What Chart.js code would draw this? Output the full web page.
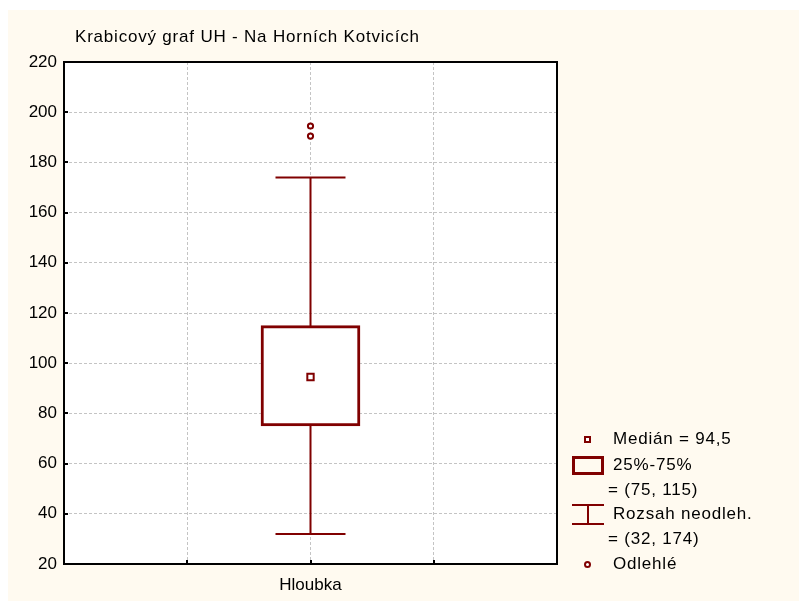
<!DOCTYPE html>
<html>
<head>
<meta charset="utf-8">
<script src="https://cdn.jsdelivr.net/npm/chart.js@4/dist/chart.umd.min.js"></script>
<style>
  html, body { margin: 0; padding: 0; background: #fff; }
  #wrap { position: relative; width: 799px; height: 601px; overflow: hidden; font-family: "Liberation Sans", Arial, sans-serif; }
  #panel { position: absolute; left: 8px; top: 10px; right: 0; bottom: 0; background: #fffaf0; }
  #c { position: absolute; left: 0; top: 0; }
  .txt { position: absolute; font-size: 17px; line-height: 20px; letter-spacing: 0.8px; color: #000; white-space: nowrap; }
  .ico { position: absolute; box-sizing: border-box; }
</style>
</head>
<body>
<div id="wrap">
  <div id="panel"></div>
  <canvas id="c" width="799" height="601"></canvas>
  <div class="txt" style="left:75px; top:27px;">Krabicový graf UH - Na Horních Kotvicích</div>
  <div id="legend"></div>
</div>
<script>
// data
const categories = ["Hloubka"];
const median = [94.5];
const q1 = [75];
const q3 = [115];
const whiskerLow = [32];
const whiskerHigh = [174];
const outliers = [[190.5, 194.5]];
const yTicks = [20, 40, 60, 80, 100, 120, 140, 160, 180, 200, 220];

const RED = "#800000";
const FONT = "'Liberation Sans', Arial, sans-serif";

// kategorie sedi uprostred osy x (0..4)
const xPos = categories.map((c, i) => 2 + i * 4);

const boxData = categories.map((c, i) => ({ x: xPos[i], y: [q1[i], q3[i]] }));
const medData = categories.map((c, i) => ({ x: xPos[i], y: median[i] }));
const outData = [];
categories.forEach((c, i) => outliers[i].forEach(v => outData.push({ x: xPos[i], y: v })));
const capData = [];
categories.forEach((c, i) => {
  capData.push({ x: xPos[i], y: whiskerLow[i] });
  capData.push({ x: xPos[i], y: whiskerHigh[i] });
});

// bile pozadi grafu, ramecek a vnitrni carky
const frame = {
  id: "frame",
  beforeDraw(chart) {
    const { ctx, chartArea: a } = chart;
    ctx.save();
    ctx.fillStyle = "#fff";
    ctx.fillRect(a.left, a.top, a.right - a.left, a.bottom - a.top);
    ctx.restore();
  },
  afterDraw(chart) {
    const { ctx, chartArea: a, scales } = chart;
    ctx.save();
    ctx.strokeStyle = "#000";
    ctx.lineWidth = 2;
    ctx.beginPath();
    yTicks.forEach(v => {
      const y = Math.round(scales.y.getPixelForValue(v));
      ctx.moveTo(a.left, y);
      ctx.lineTo(a.left + 4, y);
    });
    [1, 2, 3].forEach(v => {
      const x = Math.round(scales.x.getPixelForValue(v));
      ctx.moveTo(x, a.bottom);
      ctx.lineTo(x, a.bottom - 4);
    });
    ctx.stroke();
    ctx.strokeRect(a.left, a.top, a.right - a.left, a.bottom - a.top);
    ctx.restore();
  }
};

new Chart(document.getElementById("c"), {
  type: "bar",
  data: {
    datasets: [
      {
        type: "scatter",
        data: medData,
        pointStyle: "rect",
        pointRadius: 4.5,
        pointBorderWidth: 2,
        pointBorderColor: RED,
        pointBackgroundColor: "#fff",
      },
      {
        type: "scatter",
        data: outData,
        pointStyle: "circle",
        pointRadius: 2.6,
        pointBorderWidth: 2,
        pointBorderColor: RED,
        pointBackgroundColor: "#fff",
      },
      {
        type: "bar",
        data: boxData,
        backgroundColor: "#fff",
        borderColor: RED,
        borderWidth: 3,
        borderSkipped: false,
        barThickness: 99,
      },
      {
        type: "scatter",
        data: capData,
        pointStyle: "line",
        pointRadius: 35,
        pointBorderWidth: 2,
        pointBorderColor: RED,
      },
      {
        type: "scatter",
        data: capData,
        showLine: true,
        borderColor: RED,
        borderWidth: 2,
        pointRadius: 0,
      },
    ],
  },
  options: {
    responsive: false,
    animation: false,
    events: [],
    layout: { padding: { left: 0, right: 242, top: 62, bottom: 0 } },
    plugins: { legend: { display: false }, tooltip: { enabled: false }, title: { display: false } },
    scales: {
      x: {
        type: "linear",
        min: 0,
        max: 4,
        offset: false,
        afterFit: s => { s.height = 36; },
        afterBuildTicks: s => { s.ticks = [0, 1, 2, 3, 4].map(v => ({ value: v })); },
        ticks: {
          padding: 11,
          color: "#000",
          font: { family: FONT, size: 17 },
          callback: v => { const i = xPos.indexOf(v); return i >= 0 ? categories[i] : ""; },
        },
        grid: { color: "#c4c4c4", drawTicks: false, lineWidth: 1, offset: false },
        border: { display: false, dash: [3, 2] },
      },
      y: {
        type: "linear",
        min: 20,
        max: 220,
        afterFit: s => { s.width = 64; },
        afterBuildTicks: s => { s.ticks = yTicks.map(v => ({ value: v })); },
        ticks: {
          padding: 7,
          color: "#000",
          font: { family: FONT, size: 17 },
        },
        grid: { color: "#c4c4c4", drawTicks: false, lineWidth: 1 },
        border: { display: false, dash: [3, 2] },
      },
    },
  },
  plugins: [frame],
});

// legenda
const fmt = v => String(v).replace(".", ",");
const leg = document.getElementById("legend");
const add = html => leg.insertAdjacentHTML("beforeend", html);
const txt = (x, cy, s) => add(`<div class="txt" style="left:${x}px; top:${cy - 10}px;">${s}</div>`);

add(`<div class="ico" style="left:584px; top:436px; width:7px; height:7px; border:2px solid ${RED}; background:#fff;"></div>`);
txt(613, 439, `Medián = ${fmt(median[0])}`);
add(`<div class="ico" style="left:572px; top:456px; width:32px; height:19px; border:3px solid ${RED};"></div>`);
txt(613, 465, "25%-75%");
txt(608, 490, `= (${fmt(q1[0])}, ${fmt(q3[0])})`);
add(`<div class="ico" style="left:572px; top:504px; width:32px; height:2px; background:${RED};"></div>`);
add(`<div class="ico" style="left:572px; top:523px; width:32px; height:2px; background:${RED};"></div>`);
add(`<div class="ico" style="left:587px; top:505px; width:2px; height:19px; background:${RED};"></div>`);
txt(613, 514, "Rozsah neodleh.");
txt(608, 539, `= (${fmt(whiskerLow[0])}, ${fmt(whiskerHigh[0])})`);
add(`<div class="ico" style="left:584px; top:561px; width:7px; height:7px; border:2px solid ${RED}; border-radius:50%; background:#fff;"></div>`);
txt(613, 564, "Odlehlé");
</script>
</body>
</html>
